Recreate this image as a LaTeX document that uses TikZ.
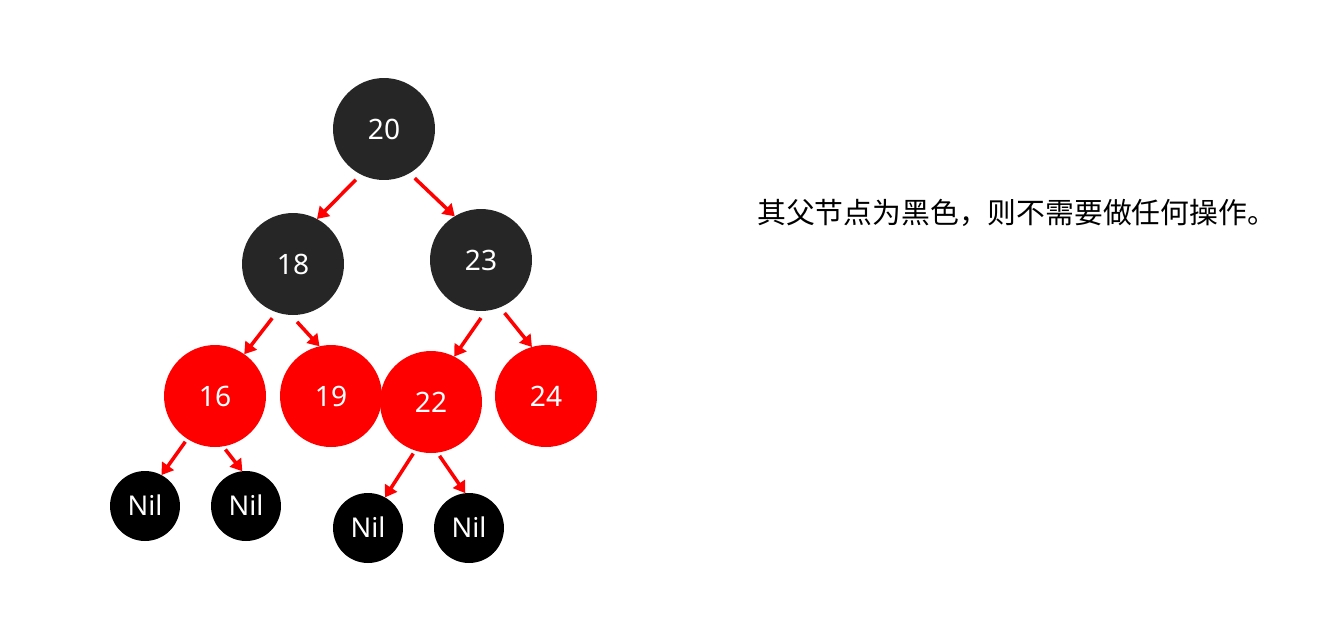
\documentclass[tikz,border=0pt]{standalone}
\usepackage{fontspec}
\setmainfont{Noto Sans}
\newfontfamily\cjk{Noto Sans CJK SC}
\usetikzlibrary{arrows.meta}
\definecolor{nodegray}{HTML}{262626}
\definecolor{rbred}{HTML}{FF0000}
\begin{document}
\begin{tikzpicture}[x=0.02cm,y=-0.02cm,
  key/.style={circle, inner sep=0pt, outer sep=0pt, minimum size=2.04cm, text=white, font=\fontsize{16}{19}\selectfont},
  blacknode/.style={key, fill=nodegray},
  rednode/.style={key, fill=rbred},
  nilnode/.style={circle, inner sep=0pt, outer sep=0pt, minimum size=1.4cm, fill=black, text=white, font=\fontsize{15.5}{18}\selectfont},
  link/.style={draw=rbred, line width=2pt, -{Triangle[length=6.5pt,width=8pt]}}]
\useasboundingbox (0,0) rectangle (1335,637);
\node[blacknode] (n20) at (384,129) {20};
\node[blacknode] (n18) at (293,264) {18};
\node[blacknode] (n23) at (481,260) {23};
\node[rednode] (n16) at (215,396) {16};
\node[rednode] (n19) at (331,396) {19};
\node[rednode] (n22) at (431,402) {22};
\node[rednode] (n24) at (546,396) {24};
\node[nilnode] (nil1) at (145,506) {\raisebox{1.5pt}{Nil}};
\node[nilnode] (nil2) at (246,506) {\raisebox{1.5pt}{Nil}};
\node[nilnode] (nil3) at (368,528) {\raisebox{1.5pt}{Nil}};
\node[nilnode] (nil4) at (469,528) {\raisebox{1.5pt}{Nil}};
\draw[link] ([shift={(241:4pt)}]n20.241) -- (n18.62);
\draw[link] ([shift={(302:4pt)}]n20.302) -- (n23.121);
\draw[link] ([shift={(249:4pt)}]n18.249) -- (n16.55);
\draw[link] ([shift={(274:4pt)}]n18.274) -- (n19.103);
\draw[link] ([shift={(270:4pt)}]n23.270) -- (n22.63);
\draw[link] ([shift={(294:4pt)}]n23.294) -- (n24.106);
\draw[link] ([shift={(237:2pt)}]n16.237) -- (nil1.62);
\draw[link] ([shift={(281:2pt)}]n16.281) -- (nil2.96);
\draw[link] ([shift={(251:2pt)}]n22.251) -- (nil3.61);
\draw[link] ([shift={(279:2pt)}]n22.279) -- (nil4.96);
\node[anchor=west, inner sep=0pt, font=\cjk\fontsize{16.4}{19}\selectfont] (msg) at (757,213) {其父节点为黑色，则不需要做任何操作。};
\end{tikzpicture}
\end{document}
